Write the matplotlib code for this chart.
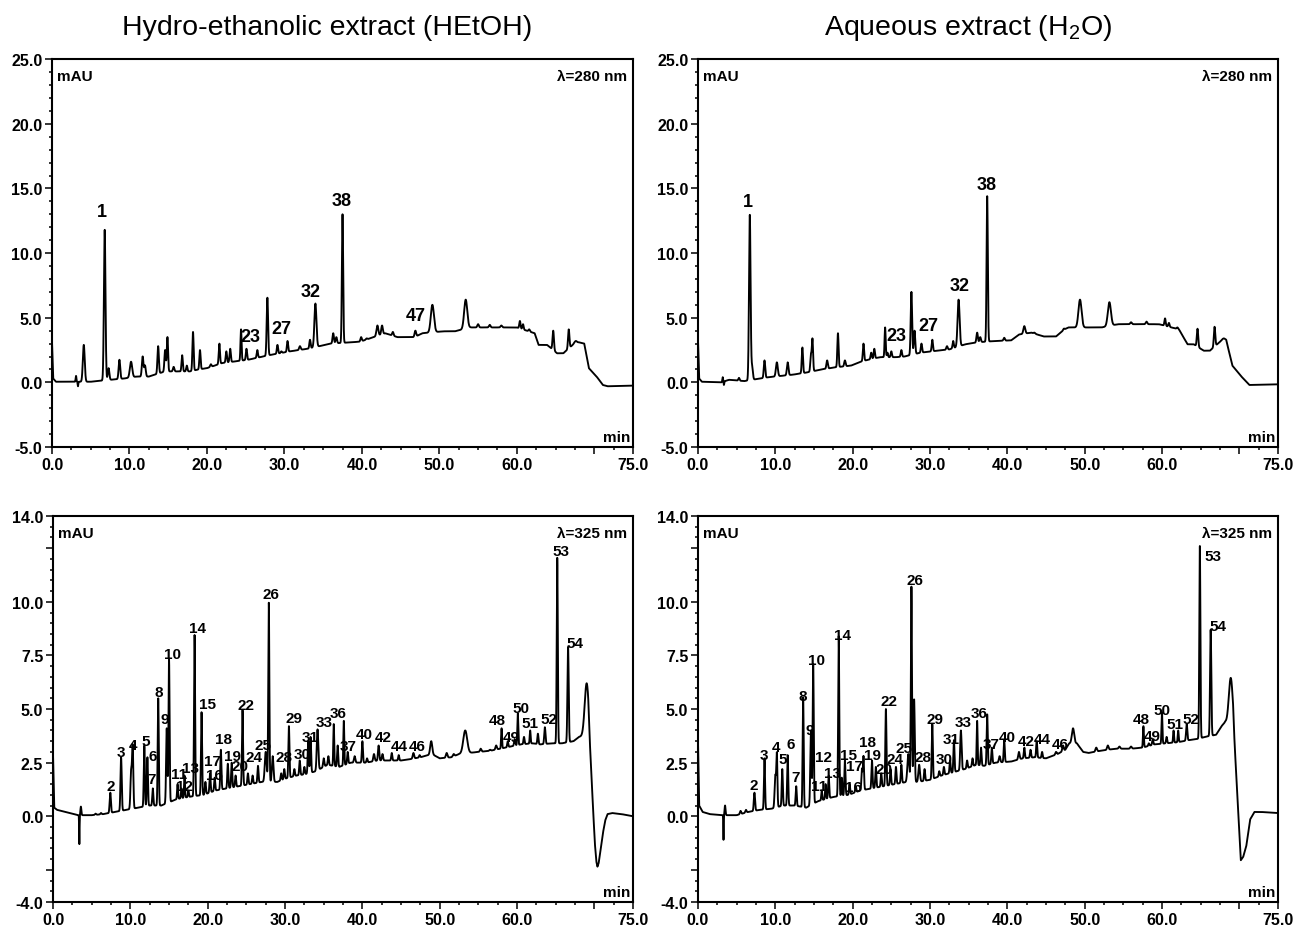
import matplotlib

matplotlib.use("Agg")
import matplotlib.pyplot as plt
import numpy as np
from matplotlib.ticker import FixedLocator, MultipleLocator

plt.rcParams["font.family"] = ["Liberation Sans", "DejaVu Sans"]

# ---------------------------------------------------------------- HEtOH, 280 nm
hetoh280_base_t = [0, 0.15, 0.5, 3.0, 5.0, 7.5, 9.3, 10.9, 12.5, 14.6, 17.8, 18.9, 20.0, 22.0,
                   25.3, 28.0, 30.7, 33.0, 36.0, 39.8, 41.5, 43.0, 44.6, 46.8, 47.8, 50.5,
                   52.0, 54.0, 60.0, 62.3, 62.8, 63.9, 65.2, 66.0, 67.4, 68.0, 68.7, 69.3,
                   70.3, 71.1, 71.7, 75.0]
hetoh280_base_y = [3.1, 0.3, 0.05, 0.05, 0.05, 0.2, 0.3, 0.45, 0.45, 0.85, 0.85, 1.0, 1.1, 1.5,
                   1.75, 2.1, 2.4, 2.6, 3.0, 3.15, 3.5, 3.8, 3.5, 3.5, 3.8, 3.95,
                   3.95, 4.25, 4.25, 3.8, 2.9, 2.9, 2.25, 2.25, 3.0, 3.1, 3.0, 1.1,
                   0.45, -0.2, -0.3, -0.25]
hetoh280_peak_t = [3.1, 3.35, 4.1, 6.8, 7.3, 8.7, 10.2, 11.7, 12.0, 13.7, 14.6, 14.9, 15.7,
                   16.8, 17.4, 18.2, 19.1, 20.5, 21.6, 22.5, 23.0, 24.4, 25.1, 26.5, 27.8,
                   29.1, 29.6, 30.4, 32.0, 33.3, 34.0, 36.3, 36.7, 37.5, 39.9, 40.6, 42.0,
                   42.6, 44.0, 46.9, 49.1, 53.4, 55.0, 56.5, 58.0, 60.4, 60.8, 61.6, 64.7,
                   66.7, 67.6]
hetoh280_peak_h = [0.5, -0.3, 2.9, 11.8, 1.1, 1.75, 1.6, 2.0, 1.3, 2.8, 2.5, 3.5, 1.2,
                   2.1, 1.3, 3.9, 2.5, 1.4, 3.0, 2.4, 2.6, 4.1, 2.6, 2.5, 6.55,
                   2.9, 2.4, 3.2, 2.8, 3.3, 6.1, 3.8, 3.5, 13.0, 3.5, 3.4, 4.4,
                   4.4, 3.9, 4.0, 6.0, 6.4, 4.5, 4.45, 4.4, 4.75, 4.5, 4.1, 4.0,
                   4.1, 3.2]
hetoh280_peak_w = [0.05, 0.04, 0.12, 0.1, 0.1, 0.1, 0.15, 0.1, 0.1, 0.09, 0.09, 0.08, 0.09,
                   0.08, 0.08, 0.08, 0.08, 0.09, 0.08, 0.08, 0.08, 0.07, 0.08, 0.08, 0.09,
                   0.08, 0.08, 0.08, 0.1, 0.08, 0.13, 0.09, 0.09, 0.08, 0.09, 0.09, 0.12,
                   0.1, 0.09, 0.1, 0.2, 0.2, 0.1, 0.1, 0.1, 0.08, 0.08, 0.09, 0.09,
                   0.09, 0.15]
hetoh280_labels = ["1", "23", "27", "32", "38", "47"]
hetoh280_label_t = [6.5, 25.6, 29.6, 33.4, 37.4, 46.9]
hetoh280_label_y = [13.2, 3.55, 4.15, 7.0, 14.1, 5.15]

# ---------------------------------------------------------------- H2O, 280 nm
h2o280_base_t = [0, 0.15, 0.5, 3.0, 4.0, 6.0, 7.5, 9.1, 10.7, 12.3, 13.9, 16.0, 17.6, 19.8,
                 21.3, 23.5, 25.6, 26.7, 28.8, 30.9, 32.5, 34.6, 36.2, 38.3, 40.5, 41.5,
                 43.1, 44.7, 46.3, 47.4, 47.9, 52.2, 54.3, 59.6, 62.2, 63.3, 64.1, 65.4,
                 66.2, 67.8, 68.3, 69.1, 70.2, 71.3, 75.0]
h2o280_base_y = [3.3, 0.3, 0.05, 0.0, 0.2, 0.1, 0.25, 0.4, 0.5, 0.6, 0.75, 1.0, 1.15, 1.3,
                 1.65, 1.95, 1.95, 2.0, 2.3, 2.45, 2.55, 2.95, 3.1, 3.2, 3.25, 3.7,
                 3.85, 3.55, 3.55, 4.1, 4.25, 4.25, 4.5, 4.5, 4.1, 2.95, 2.95, 2.45,
                 2.45, 3.3, 3.3, 1.3, 0.5, -0.2, -0.15]
h2o280_peak_t = [3.2, 3.35, 5.3, 6.7, 7.0, 8.6, 10.2, 11.6, 13.5, 14.6, 14.8, 16.7, 18.1,
                 19.0, 21.4, 22.4, 22.8, 24.2, 24.5, 25.0, 26.3, 27.6, 28.0, 28.9, 30.3,
                 32.2, 33.0, 33.7, 36.1, 36.5, 37.4, 39.6, 42.2, 43.5, 47.3, 49.4, 53.2,
                 56.0, 58.0, 60.4, 60.9, 62.0, 64.6, 66.8, 68.0]
h2o280_peak_h = [0.4, -0.2, 0.35, 12.95, 1.2, 1.7, 1.55, 1.55, 2.7, 2.1, 3.35, 1.7, 3.8,
                 1.7, 3.0, 2.3, 2.6, 4.25, 2.3, 2.4, 2.5, 7.0, 4.0, 3.0, 3.3,
                 2.8, 3.2, 6.4, 3.85, 3.5, 14.4, 3.45, 4.35, 3.85, 4.15, 6.4, 6.2,
                 4.65, 4.7, 4.95, 4.6, 4.25, 4.15, 4.3, 3.4]
h2o280_peak_w = [0.05, 0.04, 0.08, 0.1, 0.1, 0.09, 0.12, 0.1, 0.08, 0.08, 0.08, 0.09, 0.08,
                 0.09, 0.08, 0.08, 0.08, 0.07, 0.07, 0.08, 0.08, 0.09, 0.09, 0.08, 0.08,
                 0.09, 0.08, 0.13, 0.09, 0.09, 0.08, 0.09, 0.12, 0.09, 0.09, 0.2, 0.2,
                 0.1, 0.1, 0.08, 0.08, 0.09, 0.09, 0.09, 0.15]
h2o280_labels = ["1", "23", "27", "32", "38"]
h2o280_label_t = [6.4, 25.6, 29.8, 33.8, 37.3]
h2o280_label_y = [14.0, 3.6, 4.4, 7.5, 15.3]

# ---------------------------------------------------------------- HEtOH, 325 nm
hetoh325_base_t = [0, 0.15, 0.5, 2.2, 3.2, 5.0, 6.5, 8.0, 9.5, 11.0, 12.5, 14.0, 16.0, 17.5,
                   19.5, 21.0, 22.5, 24.0, 25.5, 27.0, 29.0, 30.0, 31.5, 32.5, 34.0, 35.5,
                   37.0, 38.5, 40.5, 42.0, 45.0, 46.0, 47.5, 49.0, 50.0, 51.5, 52.5, 55.0,
                   56.5, 58.5, 60.5, 62.0, 63.0, 64.5, 65.8, 67.3, 68.0, 69.2, 69.5, 69.8,
                   70.05, 70.25, 70.4, 70.55, 70.8, 71.1, 71.4, 71.7, 72.3, 73.5, 75.0]
hetoh325_base_y = [2.8, 0.4, 0.3, 0.15, 0.05, 0.05, 0.1, 0.2, 0.3, 0.4, 0.5, 0.5, 0.8, 0.9,
                   1.0, 1.2, 1.3, 1.4, 1.5, 1.6, 1.6, 1.75, 1.9, 1.95, 2.1, 2.4,
                   2.3, 2.5, 2.5, 2.6, 2.6, 2.65, 2.75, 2.9, 2.7, 2.75, 2.9, 3.0,
                   3.05, 3.2, 3.35, 3.4, 3.35, 3.4, 3.4, 3.5, 3.7, 3.8, 2.5, 0.6,
                   -1.2, -2.1, -2.35, -2.2, -1.6, -0.8, -0.2, 0.1, 0.15, 0.1, 0.0]
hetoh325_peak_t = [3.4, 3.6, 5.5, 6.2, 7.4, 8.8, 10.1, 10.3, 11.8, 12.2, 12.9, 13.6, 14.7,
                   15.0, 16.1, 16.6, 17.0, 17.5, 18.3, 19.2, 19.7, 20.3, 20.9, 21.7, 22.6,
                   23.1, 23.6, 24.5, 25.2, 25.8, 26.5, 27.5, 27.9, 28.4, 29.5, 29.9, 30.5,
                   31.2, 31.9, 32.5, 33.0, 33.3, 34.2, 35.0, 35.6, 36.3, 36.8, 37.6, 38.1,
                   39.0, 40.0, 40.6, 41.5, 42.1, 42.6, 43.8, 44.7, 46.6, 47.4, 48.9, 50.9,
                   51.8, 53.3, 55.3, 56.5, 57.3, 58.0, 58.8, 59.7, 60.1, 60.9, 61.7, 62.7,
                   63.6, 65.2, 66.6, 69.0]
hetoh325_peak_h = [-1.3, 0.45, 0.12, 0.15, 1.1, 2.75, 2.1, 3.2, 3.3, 2.75, 1.3, 5.5, 4.1,
                   7.3, 1.5, 1.3, 1.9, 1.2, 8.45, 4.85, 1.6, 2.0, 1.8, 3.1, 2.45,
                   2.5, 1.9, 4.95, 2.0, 1.9, 2.35, 3.0, 9.95, 2.8, 2.0, 2.2, 4.2,
                   2.2, 2.6, 2.3, 3.5, 3.7, 4.05, 2.7, 2.8, 4.3, 3.3, 4.45, 3.0,
                   2.8, 3.5, 2.7, 2.9, 3.3, 2.9, 2.95, 2.85, 2.95, 2.85, 3.5, 2.95,
                   2.9, 4.0, 3.15, 3.1, 3.3, 4.1, 3.5, 3.6, 4.8, 3.7, 4.0, 3.85,
                   4.15, 12.05, 7.9, 6.2]
hetoh325_peak_w = [0.03, 0.06, 0.08, 0.08, 0.08, 0.08, 0.09, 0.08, 0.07, 0.07, 0.07, 0.07, 0.08,
                   0.07, 0.06, 0.06, 0.06, 0.06, 0.07, 0.07, 0.07, 0.07, 0.07, 0.07, 0.07,
                   0.07, 0.07, 0.07, 0.07, 0.07, 0.07, 0.12, 0.07, 0.1, 0.07, 0.07, 0.07,
                   0.07, 0.07, 0.07, 0.07, 0.07, 0.1, 0.08, 0.07, 0.06, 0.07, 0.06, 0.07,
                   0.09, 0.07, 0.07, 0.09, 0.08, 0.08, 0.07, 0.07, 0.09, 0.07, 0.13, 0.1,
                   0.1, 0.25, 0.09, 0.09, 0.09, 0.06, 0.07, 0.08, 0.06, 0.07, 0.06, 0.07,
                   0.08, 0.07, 0.08, 0.25]
hetoh325_labels = ["2", "3", "4", "5", "6", "7", "8", "9", "10", "11", "12", "13", "14", "15",
                   "16", "17", "18", "19", "20", "22", "24", "25", "26", "28", "29", "30",
                   "31", "33", "36", "37", "40", "42", "44", "46", "48", "49", "50", "51",
                   "52", "53", "54"]
hetoh325_label_t = [7.4, 8.8, 10.3, 12.0, 12.9, 12.8, 13.7, 14.5, 15.5, 16.3, 17.0, 17.8, 18.7,
                    20.0, 20.9, 20.6, 22.1, 23.2, 24.2, 24.9, 26.0, 27.1, 28.2, 29.9, 31.1,
                    32.2, 33.3, 35.1, 36.9, 38.1, 40.2, 42.7, 44.8, 47.1, 57.5, 59.2, 60.5,
                    61.7, 64.1, 65.7, 67.5]
hetoh325_label_y = [1.4, 3.0, 3.33, 3.5, 2.8, 1.75, 5.78, 4.55, 7.57, 1.97, 1.4, 2.25, 8.8,
                    5.25, 1.9, 2.56, 3.59, 2.79, 2.36, 5.2, 2.74, 3.31, 10.37, 2.74, 4.59,
                    2.9, 3.71, 4.39, 4.82, 3.28, 3.82, 3.71, 3.28, 3.28, 4.51, 3.71, 5.05,
                    4.33, 4.55, 12.37, 8.09]

# ---------------------------------------------------------------- H2O, 325 nm
h2o325_base_t = [0, 0.15, 0.6, 1.5, 3.0, 5.0, 6.5, 8.0, 9.5, 11.0, 12.5, 14.0, 15.5, 17.5,
                 19.5, 21.0, 22.5, 24.0, 25.5, 27.0, 28.5, 30.0, 31.5, 32.5, 34.5, 36.0,
                 37.0, 38.5, 40.5, 42.0, 43.5, 45.0, 46.5, 47.5, 48.0, 49.0, 49.8, 50.5,
                 52.0, 54.0, 56.0, 57.5, 59.0, 60.5, 62.0, 63.5, 64.5, 65.6, 67.0, 67.7,
                 68.2, 69.2, 69.6, 70.0, 70.2, 70.5, 70.9, 71.4, 71.95, 72.8, 75.0]
h2o325_base_y = [3.5, 0.5, 0.2, 0.1, 0.05, 0.05, 0.2, 0.3, 0.35, 0.5, 0.5, 0.4, 0.7, 0.9,
                 1.0, 1.2, 1.3, 1.4, 1.5, 1.6, 1.6, 1.7, 1.9, 2.0, 2.2, 2.4,
                 2.35, 2.5, 2.55, 2.7, 2.75, 2.7, 2.9, 3.1, 3.4, 3.4, 3.0, 2.95,
                 3.05, 3.15, 3.15, 3.2, 3.35, 3.4, 3.45, 3.55, 3.6, 3.7, 3.8, 4.2,
                 4.4, 4.1, 2.0, -0.75, -2.05, -1.9, -1.4, -0.15, 0.2, 0.2, 0.15]
h2o325_peak_t = [3.3, 3.5, 5.5, 6.2, 7.3, 8.6, 10.0, 10.2, 10.9, 11.6, 12.7, 13.6, 14.6,
                 14.9, 16.0, 16.5, 16.9, 18.2, 18.6, 19.0, 19.6, 20.4, 21.2, 21.4, 22.5,
                 23.0, 23.7, 24.3, 24.9, 25.6, 26.3, 27.2, 27.6, 27.95, 28.6, 29.3, 30.3,
                 31.2, 31.8, 32.6, 33.1, 34.0, 34.8, 35.5, 36.1, 36.6, 37.4, 38.0, 39.0,
                 39.6, 41.5, 42.2, 43.0, 43.8, 44.5, 46.3, 47.2, 48.5, 51.5, 53.0, 54.5,
                 56.0, 57.6, 58.3, 58.8, 60.0, 60.6, 61.5, 62.1, 63.2, 64.9, 66.3, 68.9]
h2o325_peak_h = [-1.1, 0.5, 0.25, 0.3, 1.1, 2.7, 1.9, 2.85, 2.2, 2.85, 1.4, 5.55, 4.0,
                 7.1, 1.2, 1.5, 1.9, 8.4, 1.8, 2.6, 1.5, 1.4, 2.2, 2.8, 2.6,
                 2.3, 2.0, 5.0, 2.2, 2.3, 2.4, 2.9, 10.7, 5.45, 2.4, 2.2, 4.3,
                 2.1, 2.3, 2.6, 3.55, 4.0, 2.6, 2.7, 4.45, 3.2, 4.75, 3.2, 2.8,
                 3.55, 3.0, 3.2, 3.1, 3.5, 3.0, 3.0, 3.3, 4.1, 3.2, 3.3, 3.25,
                 3.25, 4.2, 3.4, 3.6, 4.85, 3.7, 4.0, 4.0, 4.3, 12.6, 8.7, 6.45]
h2o325_peak_w = [0.03, 0.06, 0.08, 0.08, 0.08, 0.07, 0.09, 0.07, 0.07, 0.07, 0.07, 0.07, 0.08,
                 0.07, 0.06, 0.06, 0.07, 0.07, 0.06, 0.07, 0.07, 0.07, 0.07, 0.07, 0.07,
                 0.07, 0.07, 0.07, 0.07, 0.07, 0.07, 0.12, 0.07, 0.08, 0.1, 0.07, 0.07,
                 0.07, 0.07, 0.07, 0.07, 0.09, 0.07, 0.07, 0.06, 0.07, 0.07, 0.07, 0.09,
                 0.07, 0.09, 0.07, 0.07, 0.07, 0.07, 0.09, 0.09, 0.15, 0.1, 0.1, 0.1,
                 0.1, 0.06, 0.07, 0.07, 0.06, 0.07, 0.06, 0.06, 0.08, 0.07, 0.08, 0.25]
h2o325_labels = ["2", "3", "4", "5", "6", "7", "8", "9", "10", "11", "12", "13", "14", "15",
                 "16", "17", "18", "19", "20", "22", "24", "25", "26", "28", "29", "30",
                 "31", "33", "36", "37", "40", "42", "44", "46", "48", "49", "50", "51",
                 "52", "53", "54"]
h2o325_label_t = [7.2, 8.5, 10.1, 11.0, 12.0, 12.6, 13.6, 14.4, 15.3, 15.7, 16.2, 17.4, 18.7,
                  19.5, 20.1, 20.2, 21.9, 22.6, 24.1, 24.7, 25.5, 26.6, 28.0, 29.1, 30.7,
                  31.9, 32.7, 34.3, 36.4, 37.9, 40.0, 42.4, 44.5, 46.9, 57.3, 58.8, 60.0,
                  61.7, 63.8, 66.6, 67.3]
h2o325_label_y = [1.44, 2.86, 3.24, 2.66, 3.39, 1.83, 5.62, 4.0, 7.27, 1.43, 2.75, 2.01, 8.43,
                  2.86, 1.37, 2.32, 3.47, 2.86, 2.2, 5.39, 2.66, 3.16, 11.0, 2.78, 4.55,
                  2.66, 3.58, 4.39, 4.82, 3.39, 3.7, 3.52, 3.61, 3.39, 4.52, 3.73, 4.96,
                  4.29, 4.55, 12.12, 8.89]

x_tick_pos = [0, 10, 20, 30, 40, 50, 60, 70, 75]
x_tick_lab = ["0.0", "10.0", "20.0", "30.0", "40.0", "50.0", "60.0", "", "75.0"]
y280_tick_pos = [-5, 0, 5, 10, 15, 20, 25]
y280_tick_lab = ["-5.0", "0.0", "5.0", "10.0", "15.0", "20.0", "25.0"]
y325_tick_pos = [-4, -2.5, 0, 2.5, 5, 7.5, 10, 12.5, 14]
y325_tick_lab = ["-4.0", "", "0.0", "2.5", "5.0", "7.5", "10.0", "", "14.0"]


def trace(base_t, base_y, peak_t, peak_h, peak_w):
    t = np.linspace(0, 75, 15001)
    y = np.interp(t, base_t, base_y)
    for pt, ph, pw in zip(peak_t, peak_h, peak_w):
        amp = ph - np.interp(pt, base_t, base_y)
        y = y + amp * np.exp(-0.5 * ((t - pt) / pw) ** 2)
    return t, y


def draw_panel(ax, data, labels, ylim, yticks, ylabels, yminor, wavelength, lab_size):
    t, y = trace(*data)
    ax.plot(t, y, color="black", lw=1.35)
    for txt, lt, ly in zip(*labels):
        ax.text(lt, ly, txt, ha="center", va="center", fontsize=lab_size, fontweight="bold")
    ax.set_xlim(0, 75)
    ax.set_ylim(*ylim)
    ax.xaxis.set_major_locator(FixedLocator(x_tick_pos))
    ax.set_xticklabels(x_tick_lab)
    ax.xaxis.set_minor_locator(MultipleLocator(2.5))
    ax.yaxis.set_major_locator(FixedLocator(yticks))
    ax.set_yticklabels(ylabels)
    ax.yaxis.set_minor_locator(MultipleLocator(yminor))
    ax.tick_params(which="both", direction="out", top=False, right=False, width=1.1)
    ax.tick_params(which="major", length=5, pad=2, labelsize=11.5)
    ax.tick_params(which="minor", length=2.5)
    for lab in ax.get_xticklabels() + ax.get_yticklabels():
        lab.set_fontweight("bold")
    for sp in ax.spines.values():
        sp.set_linewidth(1.5)
    ax.text(0.008, 0.975, "mAU", transform=ax.transAxes, ha="left", va="top",
            fontsize=11, fontweight="bold")
    ax.text(0.99, 0.975, f"λ={wavelength} nm", transform=ax.transAxes, ha="right", va="top",
            fontsize=11, fontweight="bold")
    ax.text(0.995, 0.008, "min", transform=ax.transAxes, ha="right", va="bottom",
            fontsize=11, fontweight="bold")


fig = plt.figure(figsize=(12.94, 9.28), dpi=100)
ax_tl = fig.add_axes([0.0402, 0.5172, 0.449, 0.418])
ax_tr = fig.add_axes([0.5394, 0.5172, 0.4482, 0.418])
ax_bl = fig.add_axes([0.0410, 0.0269, 0.4482, 0.416])
ax_br = fig.add_axes([0.5394, 0.0269, 0.4482, 0.416])

draw_panel(ax_tl, (hetoh280_base_t, hetoh280_base_y, hetoh280_peak_t, hetoh280_peak_h, hetoh280_peak_w),
           (hetoh280_labels, hetoh280_label_t, hetoh280_label_y),
           (-5, 25), y280_tick_pos, y280_tick_lab, 1, 280, 13)
draw_panel(ax_tr, (h2o280_base_t, h2o280_base_y, h2o280_peak_t, h2o280_peak_h, h2o280_peak_w),
           (h2o280_labels, h2o280_label_t, h2o280_label_y),
           (-5, 25), y280_tick_pos, y280_tick_lab, 1, 280, 13)
draw_panel(ax_bl, (hetoh325_base_t, hetoh325_base_y, hetoh325_peak_t, hetoh325_peak_h, hetoh325_peak_w),
           (hetoh325_labels, hetoh325_label_t, hetoh325_label_y),
           (-4, 14), y325_tick_pos, y325_tick_lab, 0.5, 325, 11)
draw_panel(ax_br, (h2o325_base_t, h2o325_base_y, h2o325_peak_t, h2o325_peak_h, h2o325_peak_w),
           (h2o325_labels, h2o325_label_t, h2o325_label_y),
           (-4, 14), y325_tick_pos, y325_tick_lab, 0.5, 325, 11)

fig.text(0.2527, 0.970, "Hydro-ethanolic extract (HEtOH)", ha="center", va="center", fontsize=20.5)
fig.text(0.7481, 0.970, r"Aqueous extract (H$_\mathregular{2}$O)", ha="center", va="center", fontsize=20.5)

fig.savefig("out.png", dpi=100)
